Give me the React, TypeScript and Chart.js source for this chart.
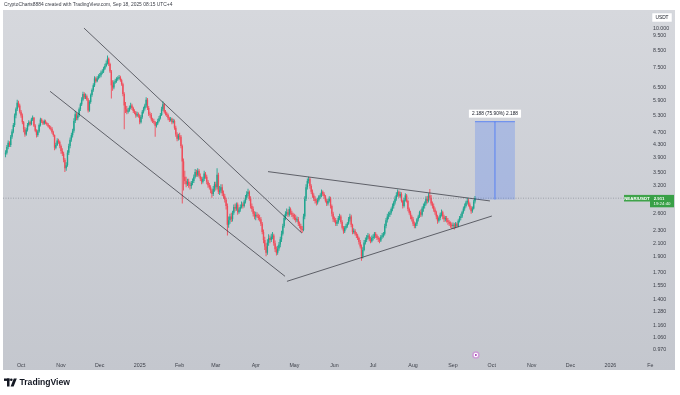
import React, { useEffect, useRef } from 'react';
import { Chart, registerables } from 'chart.js';

Chart.register(...registerables);

// Days are counted from Oct 1 2024 (day 0). First candle: Sep 19 2024.
const FIRST_DAY = -12;
const FIRST_OPEN = 4.0;

const closeSep24 = [4.05, 4.22, 4.35, 4.28, 4.55, 4.72, 4.95, 5.30, 5.55, 5.82, 5.70, 5.45];
const highSep24 = [4.12, 4.28, 4.42, 4.40, 4.60, 4.80, 5.02, 5.38, 5.62, 5.95, 5.90, 5.78];
const lowSep24 = [3.92, 4.00, 4.15, 4.22, 4.22, 4.48, 4.66, 4.88, 5.20, 5.48, 5.62, 5.38];

const closeOct24 = [5.30, 5.05, 4.80, 4.62, 4.78, 4.95, 5.05, 4.98, 5.15, 5.22, 4.92, 4.75, 4.60, 4.72, 4.95, 5.15, 5.08, 5.00, 5.10, 5.02, 4.97, 4.90, 4.85, 4.82, 4.70, 4.60, 4.20, 4.28, 4.42, 4.38, 4.25];
const highOct24 = [5.52, 5.38, 5.10, 4.88, 4.85, 5.02, 5.12, 5.10, 5.22, 5.30, 5.25, 4.98, 4.80, 4.78, 5.00, 5.22, 5.20, 5.12, 5.15, 5.14, 5.06, 5.02, 4.95, 4.92, 4.88, 4.75, 4.62, 4.35, 4.50, 4.48, 4.42];
const lowOct24 = [5.22, 4.98, 4.70, 4.55, 4.58, 4.72, 4.90, 4.92, 4.94, 5.10, 4.88, 4.70, 4.52, 4.55, 4.68, 4.90, 5.02, 4.95, 4.96, 4.98, 4.92, 4.86, 4.80, 4.76, 4.65, 4.55, 4.12, 4.15, 4.25, 4.32, 4.18];

const closeNov24 = [4.10, 4.02, 3.85, 3.62, 3.70, 4.05, 4.25, 4.45, 4.60, 4.75, 5.10, 5.35, 5.20, 5.30, 5.55, 5.75, 5.95, 6.20, 6.05, 6.10, 5.96, 5.50, 5.85, 6.15, 6.38, 6.60, 6.94, 6.80, 6.95, 7.05];
const highNov24 = [4.30, 4.18, 4.08, 3.90, 3.78, 4.12, 4.32, 4.52, 4.68, 4.82, 5.20, 5.48, 5.42, 5.38, 5.62, 5.82, 6.05, 6.30, 6.28, 6.22, 6.18, 6.02, 5.92, 6.22, 6.45, 6.70, 7.05, 7.02, 7.05, 7.15];
const lowNov24 = [4.02, 3.95, 3.78, 3.52, 3.55, 3.66, 3.98, 4.18, 4.38, 4.52, 4.68, 5.02, 5.12, 5.12, 5.25, 5.48, 5.68, 5.88, 5.98, 5.98, 5.90, 5.42, 5.45, 5.78, 6.08, 6.30, 6.52, 6.72, 6.75, 6.88];

const closeDec24 = [7.10, 7.25, 7.30, 7.45, 7.60, 7.75, 8.00, 7.70, 7.30, 6.60, 6.50, 6.75, 6.80, 6.90, 6.95, 7.00, 6.85, 6.65, 6.20, 5.70, 5.55, 5.45, 5.50, 5.62, 5.70, 5.60, 5.48, 5.42, 5.30, 5.35, 5.30];
const highDec24 = [7.22, 7.35, 7.42, 7.55, 7.72, 7.90, 8.20, 8.08, 7.78, 7.38, 6.85, 6.85, 6.92, 7.00, 7.05, 7.12, 7.08, 6.92, 6.72, 6.28, 5.85, 5.68, 5.60, 5.70, 5.82, 5.78, 5.65, 5.55, 5.48, 5.45, 5.42];
const lowDec24 = [6.95, 7.00, 7.15, 7.22, 7.38, 7.52, 7.68, 7.60, 7.22, 6.00, 6.35, 6.42, 6.68, 6.72, 6.82, 6.88, 6.78, 6.58, 6.10, 4.80, 5.40, 5.35, 5.38, 5.45, 5.55, 5.52, 5.40, 5.35, 5.22, 5.25, 5.22];

const closeJan25 = [5.05, 5.25, 5.45, 5.58, 5.70, 5.95, 5.60, 5.35, 5.32, 5.15, 5.10, 5.05, 4.92, 5.00, 5.10, 5.20, 5.32, 5.55, 5.75, 5.45, 5.38, 5.32, 5.20, 5.13, 5.18, 5.05, 5.10, 4.85, 4.62, 4.48, 4.58];
const highJan25 = [5.35, 5.32, 5.52, 5.65, 5.78, 6.05, 6.02, 5.68, 5.45, 5.40, 5.22, 5.18, 5.10, 5.06, 5.18, 5.28, 5.40, 5.65, 5.88, 5.80, 5.52, 5.45, 5.38, 5.26, 5.25, 5.22, 5.18, 5.15, 4.92, 4.70, 4.65];
const lowJan25 = [4.98, 5.00, 5.18, 5.38, 5.50, 5.62, 5.52, 5.28, 5.22, 5.08, 5.02, 4.98, 4.55, 4.86, 4.95, 5.05, 5.15, 5.28, 5.48, 5.38, 5.30, 5.25, 5.12, 5.06, 5.08, 4.98, 5.00, 4.78, 4.55, 4.40, 4.42];

const closeFeb25 = [4.55, 4.25, 3.80, 3.40, 3.30, 3.22, 3.28, 3.20, 3.18, 3.25, 3.30, 3.40, 3.52, 3.45, 3.55, 3.42, 3.35, 3.28, 3.35, 3.48, 3.40, 3.28, 3.20, 3.15, 3.08, 3.00, 3.12, 3.22];
const highFeb25 = [4.68, 4.60, 4.30, 3.88, 3.55, 3.40, 3.35, 3.35, 3.28, 3.30, 3.36, 3.46, 3.60, 3.58, 3.62, 3.60, 3.48, 3.40, 3.40, 3.55, 3.52, 3.45, 3.32, 3.25, 3.20, 3.12, 3.18, 3.28];
const lowFeb25 = [4.45, 4.18, 2.80, 3.08, 3.22, 3.15, 3.18, 3.14, 3.10, 3.12, 3.20, 3.25, 3.36, 3.40, 3.40, 3.38, 3.30, 3.22, 3.24, 3.30, 3.35, 3.22, 3.14, 3.10, 3.02, 2.92, 2.96, 3.05];

const closeMar25 = [3.15, 3.45, 3.05, 3.08, 3.15, 3.02, 2.95, 2.88, 2.75, 2.40, 2.48, 2.55, 2.50, 2.62, 2.73, 2.70, 2.78, 2.63, 2.68, 2.73, 2.78, 2.75, 2.84, 2.92, 3.00, 3.05, 2.90, 2.75, 2.69, 2.60, 2.55];
const highMar25 = [3.28, 3.62, 3.50, 3.18, 3.22, 3.22, 3.08, 3.00, 2.92, 2.80, 2.55, 2.60, 2.62, 2.66, 2.78, 2.80, 2.82, 2.82, 2.72, 2.78, 2.84, 2.82, 2.88, 2.98, 3.06, 3.12, 3.08, 2.95, 2.80, 2.74, 2.65];
const lowMar25 = [3.08, 3.10, 3.00, 2.98, 3.02, 2.96, 2.90, 2.82, 2.68, 2.22, 2.35, 2.42, 2.45, 2.46, 2.58, 2.65, 2.66, 2.58, 2.60, 2.64, 2.70, 2.70, 2.72, 2.80, 2.88, 2.95, 2.86, 2.70, 2.64, 2.55, 2.50];

const closeApr25 = [2.58, 2.55, 2.52, 2.50, 2.42, 2.28, 2.15, 2.05, 1.96, 2.11, 2.18, 2.15, 2.20, 2.22, 2.10, 2.01, 1.96, 2.02, 2.08, 2.16, 2.25, 2.38, 2.52, 2.60, 2.63, 2.58, 2.69, 2.62, 2.58, 2.55];
const highApr25 = [2.64, 2.63, 2.60, 2.58, 2.54, 2.45, 2.32, 2.20, 2.10, 2.16, 2.24, 2.22, 2.25, 2.28, 2.25, 2.14, 2.05, 2.06, 2.12, 2.20, 2.30, 2.42, 2.58, 2.65, 2.70, 2.68, 2.74, 2.72, 2.66, 2.62];
const lowApr25 = [2.48, 2.52, 2.48, 2.46, 2.38, 2.24, 2.10, 2.00, 1.91, 1.93, 2.06, 2.10, 2.12, 2.16, 2.06, 1.97, 1.92, 1.93, 1.99, 2.04, 2.12, 2.22, 2.35, 2.48, 2.56, 2.54, 2.55, 2.58, 2.54, 2.50];

const closeMay25 = [2.52, 2.48, 2.50, 2.42, 2.38, 2.33, 2.31, 2.55, 2.90, 3.15, 3.30, 3.35, 3.18, 3.05, 2.97, 2.90, 2.85, 2.82, 2.88, 2.95, 2.97, 3.05, 3.00, 2.95, 2.86, 2.80, 2.85, 2.90, 2.75, 2.60, 2.50];
const highMay25 = [2.60, 2.58, 2.55, 2.54, 2.46, 2.42, 2.38, 2.60, 2.95, 3.22, 3.36, 3.40, 3.38, 3.22, 3.10, 3.02, 2.95, 2.90, 2.92, 2.98, 3.02, 3.10, 3.08, 3.04, 2.98, 2.90, 2.90, 2.95, 2.94, 2.78, 2.64];
const lowMay25 = [2.48, 2.44, 2.45, 2.38, 2.34, 2.28, 2.26, 2.29, 2.50, 2.85, 3.10, 3.24, 3.12, 3.00, 2.92, 2.85, 2.80, 2.76, 2.78, 2.84, 2.90, 2.93, 2.96, 2.90, 2.82, 2.75, 2.76, 2.82, 2.70, 2.55, 2.45];

const closeJun25 = [2.48, 2.42, 2.45, 2.52, 2.55, 2.45, 2.35, 2.29, 2.35, 2.38, 2.42, 2.50, 2.55, 2.40, 2.28, 2.30, 2.25, 2.22, 2.18, 2.12, 2.05, 1.91, 2.00, 2.11, 2.15, 2.19, 2.22, 2.16, 2.13, 2.18];
const highJun25 = [2.55, 2.52, 2.48, 2.56, 2.60, 2.58, 2.48, 2.38, 2.38, 2.42, 2.45, 2.54, 2.60, 2.58, 2.42, 2.34, 2.33, 2.28, 2.25, 2.20, 2.15, 2.08, 2.04, 2.15, 2.19, 2.23, 2.26, 2.25, 2.20, 2.22];
const lowJun25 = [2.44, 2.38, 2.38, 2.42, 2.48, 2.42, 2.32, 2.25, 2.26, 2.32, 2.35, 2.40, 2.46, 2.36, 2.24, 2.25, 2.22, 2.18, 2.15, 2.08, 2.02, 1.85, 1.88, 1.98, 2.08, 2.12, 2.16, 2.13, 2.10, 2.11];

const closeJul25 = [2.20, 2.25, 2.22, 2.18, 2.16, 2.14, 2.20, 2.22, 2.25, 2.38, 2.48, 2.55, 2.58, 2.62, 2.69, 2.75, 2.82, 2.90, 2.98, 3.05, 2.95, 3.00, 2.85, 2.75, 2.88, 2.97, 2.85, 2.69, 2.62, 2.55, 2.50];
const highJul25 = [2.24, 2.28, 2.28, 2.24, 2.21, 2.19, 2.23, 2.26, 2.28, 2.42, 2.52, 2.60, 2.64, 2.66, 2.72, 2.80, 2.86, 2.95, 3.04, 3.10, 3.08, 3.05, 3.04, 2.88, 2.92, 3.02, 3.00, 2.88, 2.72, 2.66, 2.58];
const lowJul25 = [2.14, 2.17, 2.18, 2.15, 2.12, 2.10, 2.12, 2.17, 2.19, 2.22, 2.34, 2.44, 2.50, 2.54, 2.58, 2.65, 2.70, 2.78, 2.86, 2.94, 2.92, 2.92, 2.82, 2.70, 2.72, 2.84, 2.82, 2.65, 2.58, 2.50, 2.46];

const closeAug25 = [2.42, 2.38, 2.42, 2.50, 2.55, 2.63, 2.58, 2.70, 2.75, 2.80, 2.90, 2.85, 2.97, 2.92, 2.80, 2.75, 2.68, 2.63, 2.55, 2.47, 2.52, 2.58, 2.63, 2.55, 2.50, 2.52, 2.48, 2.45, 2.42, 2.40, 2.38];
const highAug25 = [2.54, 2.46, 2.44, 2.52, 2.58, 2.66, 2.68, 2.74, 2.80, 2.84, 2.95, 2.96, 3.02, 3.11, 2.98, 2.84, 2.80, 2.72, 2.66, 2.58, 2.55, 2.62, 2.68, 2.66, 2.58, 2.56, 2.56, 2.52, 2.48, 2.46, 2.44];
const lowAug25 = [2.38, 2.34, 2.34, 2.38, 2.46, 2.52, 2.54, 2.55, 2.64, 2.70, 2.76, 2.80, 2.82, 2.88, 2.76, 2.70, 2.64, 2.58, 2.50, 2.42, 2.44, 2.48, 2.55, 2.50, 2.45, 2.46, 2.44, 2.40, 2.38, 2.35, 2.33];

const closeSep25 = [2.40, 2.37, 2.42, 2.38, 2.47, 2.52, 2.55, 2.63, 2.70, 2.75, 2.82, 2.86, 2.78, 2.72, 2.65, 2.70, 2.84, 2.911];
const highSep25 = [2.44, 2.43, 2.45, 2.44, 2.50, 2.56, 2.60, 2.66, 2.74, 2.80, 2.86, 2.92, 2.90, 2.82, 2.75, 2.74, 2.88, 2.96];
const lowSep25 = [2.33, 2.32, 2.34, 2.35, 2.36, 2.44, 2.48, 2.52, 2.60, 2.66, 2.72, 2.78, 2.74, 2.68, 2.60, 2.62, 2.68, 2.80];

// Axis ticks
const monthTickDays = [0, 31, 61, 92, 123, 151, 182, 212, 243, 273, 304, 335, 365, 396, 426, 457, 488];
const monthTickLabels = ['Oct', 'Nov', 'Dec', '2025', 'Feb', 'Mar', 'Apr', 'May', 'Jun', 'Jul', 'Aug', 'Sep', 'Oct', 'Nov', 'Dec', '2026', 'Fe'];
const priceTicks = [10, 9.5, 8.5, 7.5, 6.5, 5.9, 5.3, 4.7, 4.3, 3.9, 3.5, 3.2, 2.6, 2.3, 2.1, 1.9, 1.7, 1.55, 1.4, 1.28, 1.16, 1.06, 0.97];

// Drawings (day, price)
const trendLines = [
  { d1: 48.8, p1: 10.0, d2: 217.8, p2: 2.26 },
  { d1: 22.5, p1: 6.32, d2: 204.7, p2: 1.652 },
  { d1: 191.5, p1: 3.53, d2: 363.6, p2: 2.854 },
  { d1: 206.2, p1: 1.593, d2: 365.1, p2: 2.558 },
];
const measureFromDay = 352;
const measureToDay = 383;
const measureFromPrice = 2.883;
const measureToPrice = 5.071;
const measureLabel = '2.188 (75.90%) 2.188';
const lastPrice = 2.911;
const symbolLabel = 'NEAR/USDT';
const countdownLabel = '19:24:40';
const eventDay = 352.7;
const captionText = 'CryptoCharts8884 created with TradingView.com, Sep 18, 2025 08:15 UTC+4';

const closes = [...closeSep24, ...closeOct24, ...closeNov24, ...closeDec24, ...closeJan25, ...closeFeb25, ...closeMar25, ...closeApr25, ...closeMay25, ...closeJun25, ...closeJul25, ...closeAug25, ...closeSep25];
const highs = [...highSep24, ...highOct24, ...highNov24, ...highDec24, ...highJan25, ...highFeb25, ...highMar25, ...highApr25, ...highMay25, ...highJun25, ...highJul25, ...highAug25, ...highSep25];
const lows = [...lowSep24, ...lowOct24, ...lowNov24, ...lowDec24, ...lowJan25, ...lowFeb25, ...lowMar25, ...lowApr25, ...lowMay25, ...lowJun25, ...lowJul25, ...lowAug25, ...lowSep25];

const UP = '#1fa58f';
const DOWN = '#f04c5a';
const FONT = '"Liberation Sans", Arial, sans-serif';

export default function App() {
  const ref = useRef<HTMLCanvasElement | null>(null);

  useEffect(() => {
    document.body.style.margin = '0';
    const canvas = ref.current;
    if (!canvas) return;

    const candles = closes.map((c, i) => {
      const o = i === 0 ? FIRST_OPEN : closes[i - 1];
      return { d: FIRST_DAY + i, o, c, h: Math.max(highs[i], o, c), l: Math.min(lows[i], o, c) };
    });
    const colors = candles.map((k) => (k.c >= k.o ? UP : DOWN));

    const decor = {
      id: 'decor',
      beforeDraw(chart: any) {
        const ctx = chart.ctx;
        ctx.save();
        ctx.fillStyle = '#ffffff';
        ctx.fillRect(0, 0, 680, 395);
        const g = ctx.createLinearGradient(0, 10, 0, 370);
        g.addColorStop(0, '#d6d8dd');
        g.addColorStop(1, '#c4c7ce');
        ctx.fillStyle = g;
        ctx.fillRect(3, 10, 672, 360);
        ctx.restore();
      },
      afterDatasetsDraw(chart: any) {
        const ctx = chart.ctx;
        const xs = chart.scales.x;
        const ys = chart.scales.y;
        const a = chart.chartArea;
        ctx.save();
        ctx.beginPath();
        ctx.rect(a.left, a.top, a.right - a.left, a.bottom - a.top);
        ctx.clip();
        const py = ys.getPixelForValue(lastPrice);
        ctx.strokeStyle = 'rgba(110,114,125,0.7)';
        ctx.lineWidth = 0.7;
        ctx.setLineDash([1, 1.5]);
        ctx.beginPath();
        ctx.moveTo(a.left, py);
        ctx.lineTo(a.right, py);
        ctx.stroke();
        ctx.setLineDash([]);
        ctx.strokeStyle = 'rgba(40,42,50,0.85)';
        ctx.lineWidth = 0.8;
        trendLines.forEach((t) => {
          ctx.beginPath();
          ctx.moveTo(xs.getPixelForValue(t.d1), ys.getPixelForValue(t.p1));
          ctx.lineTo(xs.getPixelForValue(t.d2), ys.getPixelForValue(t.p2));
          ctx.stroke();
        });
        const mx1 = xs.getPixelForValue(measureFromDay);
        const mx2 = xs.getPixelForValue(measureToDay);
        const my1 = ys.getPixelForValue(measureToPrice);
        const my2 = ys.getPixelForValue(measureFromPrice);
        ctx.fillStyle = 'rgba(41,98,255,0.22)';
        ctx.fillRect(mx1, my1, mx2 - mx1, my2 - my1);
        ctx.strokeStyle = 'rgba(41,98,255,0.8)';
        ctx.lineWidth = 0.8;
        ctx.beginPath();
        ctx.moveTo(mx1, my1);
        ctx.lineTo(mx2, my1);
        ctx.moveTo((mx1 + mx2) / 2, my1);
        ctx.lineTo((mx1 + mx2) / 2, my2);
        ctx.stroke();
        ctx.font = `4.8px ${FONT}`;
        const lw = ctx.measureText(measureLabel).width + 6;
        const lcx = (mx1 + mx2) / 2;
        ctx.fillStyle = '#ffffff';
        ctx.fillRect(lcx - lw / 2, my1 - 12, lw, 8);
        ctx.fillStyle = '#131722';
        ctx.textAlign = 'center';
        ctx.textBaseline = 'middle';
        ctx.fillText(measureLabel, lcx, my1 - 8);
        ctx.restore();
      },
      afterDraw(chart: any) {
        const ctx = chart.ctx;
        const xs = chart.scales.x;
        const ys = chart.scales.y;
        ctx.save();
        ctx.fillStyle = '#3a3d46';
        ctx.font = `4.9px ${FONT}`;
        ctx.textAlign = 'left';
        ctx.textBaseline = 'middle';
        ctx.fillText(captionText, 4, 5);
        ctx.fillStyle = '#ffffff';
        ctx.fillRect(652, 13, 20, 9);
        ctx.strokeStyle = '#d0d3da';
        ctx.lineWidth = 0.5;
        ctx.strokeRect(652, 13, 20, 9);
        ctx.fillStyle = '#131722';
        ctx.font = `4.8px ${FONT}`;
        ctx.textAlign = 'center';
        ctx.fillText('USDT', 662, 17.5);
        const py = ys.getPixelForValue(lastPrice);
        ctx.fillStyle = '#3fa34a';
        ctx.fillRect(624, py - 3.3, 26, 6.6);
        ctx.fillStyle = '#38a046';
        ctx.fillRect(650, py - 3.3, 24, 12.4);
        ctx.fillStyle = '#ffffff';
        ctx.font = `bold 4.4px ${FONT}`;
        ctx.textAlign = 'center';
        ctx.fillText(symbolLabel, 637, py + 0.2);
        ctx.fillText(lastPrice.toFixed(3), 659, py + 0.2);
        ctx.font = `4.4px ${FONT}`;
        ctx.fillText(countdownLabel, 662, py + 6);
        const ex = xs.getPixelForValue(eventDay);
        ctx.fillStyle = 'rgba(206,147,216,0.8)';
        ctx.beginPath();
        ctx.arc(ex, 355, 3.8, 0, Math.PI * 2);
        ctx.fill();
        ctx.fillStyle = '#ffffff';
        ctx.beginPath();
        ctx.arc(ex, 355, 2.2, 0, Math.PI * 2);
        ctx.fill();
        ctx.fillStyle = '#9c27b0';
        ctx.beginPath();
        ctx.arc(ex, 355, 0.9, 0, Math.PI * 2);
        ctx.fill();
        ctx.fillStyle = '#131722';
        ctx.fillRect(4, 378.5, 5.5, 2.4);
        ctx.fillRect(7, 378.5, 2.5, 8);
        ctx.beginPath();
        ctx.arc(11.3, 379.8, 1.3, 0, Math.PI * 2);
        ctx.fill();
        ctx.beginPath();
        ctx.moveTo(13.8, 378.5);
        ctx.lineTo(16.8, 378.5);
        ctx.lineTo(13.6, 386.5);
        ctx.lineTo(10.6, 386.5);
        ctx.closePath();
        ctx.fill();
        ctx.font = `bold 8.6px ${FONT}`;
        ctx.textAlign = 'left';
        ctx.textBaseline = 'middle';
        ctx.fillText('TradingView', 19.5, 382.8);
        ctx.restore();
      },
    };

    const chart = new Chart(canvas, {
      type: 'bar',
      data: {
        datasets: [
          {
            data: candles.map((k) => ({ x: k.d, y: [k.l, k.h] })) as any,
            backgroundColor: colors,
            barThickness: 0.9,
            borderWidth: 0,
            inflateAmount: 0,
            grouped: false,
          } as any,
          {
            data: candles.map((k) => ({ x: k.d, y: [k.o, k.c] })) as any,
            backgroundColor: colors,
            barThickness: 1.4,
            borderWidth: 0,
            inflateAmount: 0,
            grouped: false,
            minBarLength: 0.6,
          } as any,
        ],
      },
      options: {
        responsive: false,
        animation: false,
        devicePixelRatio: 1,
        layout: { padding: { left: 3, top: 10, right: 5, bottom: 25 } },
        plugins: { legend: { display: false }, tooltip: { enabled: false } },
        scales: {
          x: {
            type: 'linear',
            min: -14,
            max: 488.5,
            offset: false,
            grid: { display: false, drawTicks: false, offset: false },
            border: { display: false },
            afterBuildTicks: (s: any) => {
              s.ticks = monthTickDays.map((v) => ({ value: v }));
            },
            afterFit: (s: any) => {
              s.height = 13;
            },
            ticks: {
              autoSkip: false,
              maxRotation: 0,
              padding: 5,
              color: '#3c3f48',
              font: { family: FONT, size: 5.3 },
              callback: (v: any) => {
                const i = monthTickDays.indexOf(Number(v));
                return i >= 0 ? monthTickLabels[i] : '';
              },
            },
          },
          y: {
            type: 'logarithmic',
            position: 'right',
            min: 0.92,
            max: 11.4,
            grid: { display: false, drawTicks: false },
            border: { display: false },
            afterBuildTicks: (s: any) => {
              s.ticks = priceTicks.map((v) => ({ value: v }));
            },
            afterFit: (s: any) => {
              s.width = 24;
            },
            ticks: {
              autoSkip: false,
              padding: 2,
              crossAlign: 'near',
              color: '#3c3f48',
              font: { family: FONT, size: 5.3 },
              callback: (v: any) => Number(v).toFixed(3),
            },
          },
        },
      } as any,
      plugins: [decor],
    });

    return () => chart.destroy();
  }, []);

  return (
    <canvas
      ref={ref}
      width={680}
      height={395}
      style={{ position: 'fixed', left: 0, top: 0, width: 680, height: 395 }}
    />
  );
}
